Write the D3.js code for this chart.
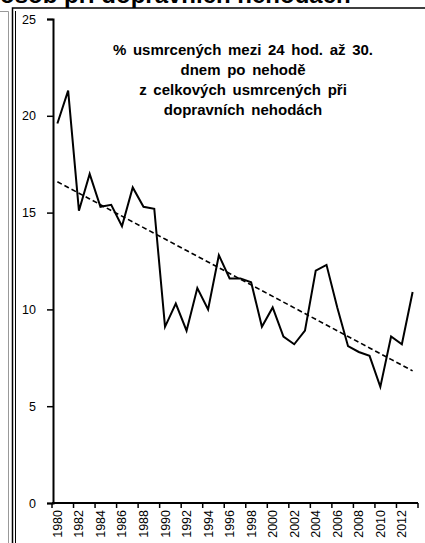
<!DOCTYPE html>
<html>
<head>
<meta charset="utf-8">
<script src="https://cdn.jsdelivr.net/npm/d3@7"></script>
<style>
  body { margin: 0; background: #fff; }
  svg { display: block; font-family: Arial, "Liberation Sans", sans-serif; }
</style>
</head>
<body>
<div class="canvas"></div>
<script>
const years = d3.range(1980, 2014);
const values = [19.6, 21.3, 15.1, 17.0, 15.3, 15.4, 14.3, 16.3, 15.3, 15.2,
                9.1, 10.3, 8.9, 11.1, 10.0, 12.8, 11.6, 11.6, 11.4, 9.1,
                10.1, 8.6, 8.2, 8.9, 12.0, 12.3, 10.1, 8.1, 7.8, 7.6,
                6.0, 8.6, 8.2, 10.9];
const yTicks = [0, 5, 10, 15, 20, 25];
const noteLines = ['% usmrcených mezi 24 hod. až 30.', 'dnem po nehodě',
                   'z celkových usmrcených při', 'dopravních nehodách'];
const clippedTitle = 'osob při dopravních nehodách';

const W = 425, H = 543;
const plot = { left: 52, right: 418, top: 19, bottom: 503 };

const svg = d3.select('.canvas')
    .append('svg')
    .attr('width', W)
    .attr('height', H);

// frames of the sheet around the chart
svg.append('path')
    .attr('d', `M0,11.5 H8.5 V${H}`)
    .attr('fill', 'none')
    .attr('stroke', '#999')
    .attr('stroke-width', 1);
svg.append('path')
    .attr('d', `M12.5,${H} V8 H${W}`)
    .attr('fill', 'none')
    .attr('stroke', '#000')
    .attr('stroke-width', 1.5);
svg.append('path')
    .attr('d', `M15.5,${H} V11`)
    .attr('fill', 'none')
    .attr('stroke', '#000')
    .attr('stroke-width', 1);

// title of the sheet, cut off by the top edge as in the picture
svg.append('text')
    .attr('x', 0)
    .attr('y', 3)
    .attr('font-size', 24)
    .attr('font-weight', 'bold')
    .text(clippedTitle);

const x = d3.scaleBand()
    .domain(years)
    .range([plot.left, plot.right])
    .padding(0);

const y = d3.scaleLinear()
    .domain([0, 25])
    .range([plot.bottom, plot.top]);

// y axis
const yAxis = svg.append('g')
    .attr('transform', `translate(${plot.left + 1}, 0)`)
    .call(d3.axisLeft(y).tickValues(yTicks).tickSize(6).tickPadding(11));
yAxis.select('.domain').attr('stroke-width', 2);
yAxis.selectAll('.tick line').attr('stroke-width', 1.5);
yAxis.selectAll('.tick text')
    .attr('font-size', 12.5)
    .attr('font-family', 'Arial, "Liberation Sans", sans-serif');

// x axis: ticks on category boundaries every 2 years, labels every 2 years
const xAxisG = svg.append('g')
    .attr('transform', `translate(0, ${plot.bottom})`);
xAxisG.append('line')
    .attr('x1', plot.left)
    .attr('x2', plot.right)
    .attr('stroke', '#000')
    .attr('stroke-width', 2);
const lastYear = years[years.length - 1];
const boundaryYears = years.filter((d, i) => i % 2 === 0).concat([lastYear + 1]);
xAxisG.selectAll('.xtick')
    .data(boundaryYears)
    .enter()
    .append('line')
    .attr('class', 'xtick')
    .attr('x1', d => d <= lastYear ? x(d) : x.range()[1])
    .attr('x2', d => d <= lastYear ? x(d) : x.range()[1])
    .attr('y1', 0)
    .attr('y2', 5)
    .attr('stroke', '#000')
    .attr('stroke-width', 1.5);
xAxisG.selectAll('.xlabel')
    .data(years.filter((d, i) => i % 2 === 0))
    .enter()
    .append('text')
    .attr('class', 'xlabel')
    .attr('transform', d => `translate(${x(d) + x.bandwidth() / 2 + 4.5}, 7) rotate(-90)`)
    .attr('text-anchor', 'end')
    .attr('font-size', 12.5)
    .text(d => d);

// series line
const line = d3.line()
    .x((d, i) => x(years[i]) + x.bandwidth() / 2)
    .y(d => y(d));

svg.append('path')
    .datum(values)
    .attr('d', line)
    .attr('fill', 'none')
    .attr('stroke', '#000')
    .attr('stroke-width', 2)
    .attr('stroke-linejoin', 'miter');

// linear trend (least squares)
const mx = d3.mean(values, (d, i) => i);
const my = d3.mean(values);
const slope = d3.sum(values, (d, i) => (i - mx) * (d - my)) / d3.sum(values, (d, i) => (i - mx) * (i - mx));
const icpt = my - slope * mx;
const trend = values.map((d, i) => icpt + slope * i);

svg.append('path')
    .datum(trend)
    .attr('d', line)
    .attr('fill', 'none')
    .attr('stroke', '#000')
    .attr('stroke-width', 1.6)
    .attr('stroke-dasharray', '5,3');

// note text
svg.append('g')
    .selectAll('text')
    .data(noteLines)
    .enter()
    .append('text')
    .attr('x', 243)
    .attr('y', (d, i) => 55 + i * 20)
    .attr('text-anchor', 'middle')
    .attr('font-size', 15)
    .attr('font-weight', 'bold')
    .attr('word-spacing', 2.5)
    .text(d => d);
</script>
</body>
</html>
